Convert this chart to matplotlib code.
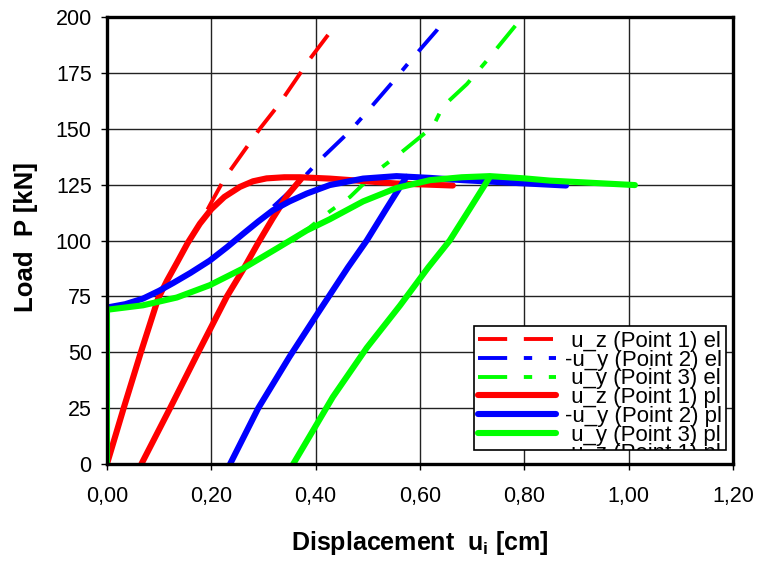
import matplotlib
matplotlib.use('Agg')
import matplotlib.pyplot as plt
from matplotlib.transforms import IdentityTransform

plt.rcParams['font.family'] = ['Liberation Sans', 'DejaVu Sans']
plt.rcParams['mathtext.fontset'] = 'custom'
plt.rcParams['mathtext.rm'] = 'Liberation Sans'
plt.rcParams['mathtext.bf'] = 'Liberation Sans:bold'
plt.rcParams['lines.scale_dashes'] = False

# elastic curves (dashed)
el1_x = [0.0, 0.032, 0.065, 0.098, 0.115, 0.134, 0.155, 0.178, 0.2, 0.226, 0.293, 0.33, 0.371, 0.385, 0.44]
el1_p = [0, 25, 50, 74, 82, 90, 99, 107.5, 117, 128, 150, 161, 175, 180, 197]
el2_x = [0.0, 0.0, 0.035, 0.069, 0.1, 0.127, 0.16, 0.197, 0.23, 0.261, 0.29, 0.318, 0.36,
         0.408, 0.466, 0.50, 0.548, 0.58, 0.632, 0.64]
el2_p = [0, 70, 71.5, 74, 77.5, 81, 85.5, 91, 97, 103, 108.5, 115, 124,
         136, 149, 158, 171, 180, 194, 197]
el3_x = [0.0, 0.0, 0.069, 0.134, 0.197, 0.261, 0.326, 0.357, 0.427, 0.466, 0.517, 0.562,
         0.625, 0.644, 0.69, 0.73, 0.786]
el3_p = [0, 69, 71, 74.5, 80, 87.5, 96.5, 100, 113, 119.5, 131, 139,
         151, 160, 170, 181, 197]

# plastic curves (solid): loading branch + unloading branch
pl1_x = [0.0, 0.032, 0.065, 0.098, 0.115, 0.134, 0.155, 0.178, 0.2, 0.225, 0.255, 0.28,
         0.306, 0.34, 0.37, 0.427, 0.491, 0.555, 0.663]
pl1_p = [0, 25, 50, 74, 82, 90, 99, 107.5, 114, 119.5, 124, 126.5,
         127.8, 128.3, 128.3, 127.7, 126.6, 125.5, 124.6]
un1_x = [0.066, 0.121, 0.175, 0.23, 0.261, 0.29, 0.318, 0.345, 0.372]
un1_p = [0, 25, 50, 75, 87, 99, 110, 120, 127.5]

pl2_x = [0.0, 0.0, 0.035, 0.069, 0.1, 0.127, 0.16, 0.197, 0.23, 0.261, 0.29, 0.318, 0.35,
         0.383, 0.427, 0.491, 0.555, 0.62, 0.682, 0.78, 0.88]
pl2_p = [0, 70, 71.5, 74, 77.5, 81, 85.5, 91, 97, 103, 108.5, 113.5, 117.5,
         121, 124.8, 127.7, 128.8, 128, 127, 125.8, 124.6]
un2_x = [0.236, 0.29, 0.35, 0.40, 0.462, 0.498, 0.535, 0.574]
un2_p = [0, 25, 48, 66, 88, 100, 114, 128.5]

pl3_x = [0.0, 0.0, 0.069, 0.134, 0.197, 0.261, 0.326, 0.383, 0.427, 0.491, 0.555, 0.619,
         0.68, 0.734, 0.80, 0.849, 0.93, 1.012]
pl3_p = [0, 69, 71, 74.5, 80, 87.5, 96.5, 104.5, 109.5, 117.5, 123.5, 127,
         128.3, 128.8, 127.8, 126.8, 125.8, 124.8]
un3_x = [0.357, 0.433, 0.498, 0.562, 0.616, 0.657, 0.695, 0.734]
un3_p = [0, 30, 52, 71, 88, 100, 114, 128.5]

labels = [' u_z (Point 1) el', '-u_y (Point 2) el', ' u_y (Point 3) el',
          ' u_z (Point 1) pl', '-u_y (Point 2) pl', ' u_y (Point 3) pl']
hidden_label = ' u_z (Point 1) pl'
colors = ['#ff0000', '#0000ff', '#00ff00']

xticks = [0.0, 0.2, 0.4, 0.6, 0.8, 1.0, 1.2]
xticklabels = ['0,00', '0,20', '0,40', '0,60', '0,80', '1,00', '1,20']
yticks = [0, 25, 50, 75, 100, 125, 150, 175, 200]

fig = plt.figure(figsize=(7.57, 5.61), dpi=100)
ax = fig.add_axes([0.1413, 0.1729, 0.8270, 0.7968])

el_dash = [(0, (21, 12)), (0, (21, 12, 6, 12)), (0, (21, 12, 6, 12))]
handles = []
for (x, p), c, d in zip([(el1_x, el1_p), (el2_x, el2_p), (el3_x, el3_p)], colors, el_dash):
    h, = ax.plot(x, p, color=c, lw=2.8, linestyle=d, dash_capstyle='butt', zorder=2)
    handles.append(h)
for (x, p, ux, up), c in zip([(pl1_x, pl1_p, un1_x, un1_p), (pl2_x, pl2_p, un2_x, un2_p),
                              (pl3_x, pl3_p, un3_x, un3_p)], colors):
    h, = ax.plot(x, p, color=c, lw=4.4, solid_capstyle='round', solid_joinstyle='round', zorder=3)
    ax.plot(ux, up, color=c, lw=4.4, solid_capstyle='round', zorder=3)
    handles.append(h)

ax.set_xlim(0, 1.2)
ax.set_ylim(0, 200)
ax.set_xticks(xticks)
ax.set_xticklabels(xticklabels)
ax.set_yticks(yticks)
ax.tick_params(direction='out', length=4, width=1, labelsize=15.5, pad=7)
ax.tick_params(axis='x', pad=12)
ax.grid(True, color='#222222', lw=1.0)
ax.set_axisbelow(True)
for s in ax.spines.values():
    s.set_linewidth(2.4)
    s.set_zorder(5)

ax.set_xlabel(r'Displacement  u$_\mathbf{i}$ [cm]', fontsize=18, fontweight='bold', labelpad=16)
ax.set_ylabel('Load  P [kN]', fontsize=18.5, fontweight='bold')
ax.yaxis.set_label_coords(-0.11, 0.507)

leg = ax.legend(handles, labels, loc='lower right', bbox_to_anchor=(0.989, 0.031),
                fontsize=16, handlelength=3.5, handletextpad=0.4, labelspacing=-0.1,
                borderpad=0.2, borderaxespad=0, fancybox=False, framealpha=1,
                edgecolor='black')
leg.get_frame().set_linewidth(1.2)
leg.set_zorder(6)

# the legend box is too short for one more entry: its label peeks out at the bottom
fig.canvas.draw()
texts = leg.get_texts()
b1 = texts[-2].get_window_extent()
b2 = texts[-1].get_window_extent()
pitch = b1.y0 - b2.y0
frame_box = leg.get_frame().get_window_extent()
extra = fig.text(b2.x0, b2.y0 - pitch, hidden_label, fontsize=16,
                 transform=IdentityTransform(), ha='left', va='bottom', zorder=10)
extra.set_clip_on(True)
extra.set_clip_box(frame_box)

fig.savefig('out.png', dpi=100)
